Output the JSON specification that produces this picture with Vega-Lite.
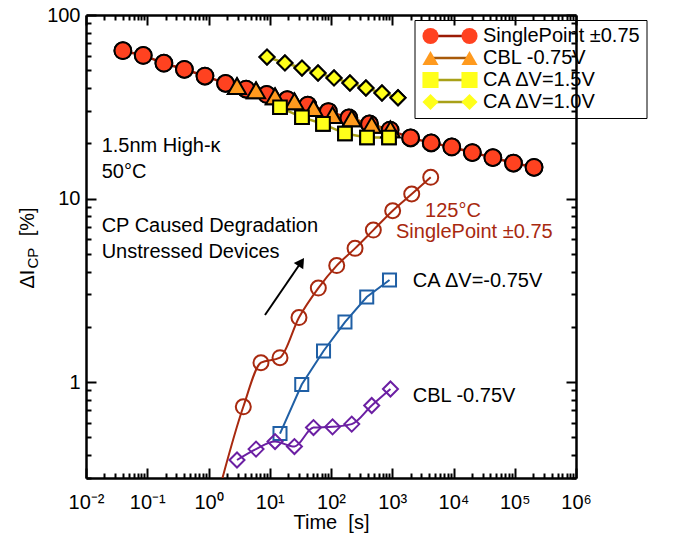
{
  "$schema": "https://vega.github.io/schema/vega-lite/v6.json",
  "width": 490,
  "height": 463,
  "autosize": {"type": "none"},
  "padding": {"left": 86, "top": 15, "right": 99, "bottom": 57},
  "background": "white",
  "config": {"font": "Liberation Sans", "view": {"stroke": null}, "axis": {"grid": false}},
  "datasets": {
    "pts": [
      {"series": "SinglePoint ±0.75", "t": 0.04, "v": 63.9},
      {"series": "SinglePoint ±0.75", "t": 0.086, "v": 60.2},
      {"series": "SinglePoint ±0.75", "t": 0.187, "v": 54.6},
      {"series": "SinglePoint ±0.75", "t": 0.404, "v": 50.6},
      {"series": "SinglePoint ±0.75", "t": 0.875, "v": 46.5},
      {"series": "SinglePoint ±0.75", "t": 1.9, "v": 42.4},
      {"series": "SinglePoint ±0.75", "t": 4.11, "v": 39.5},
      {"series": "SinglePoint ±0.75", "t": 8.91, "v": 36.9},
      {"series": "SinglePoint ±0.75", "t": 19.3, "v": 34.6},
      {"series": "SinglePoint ±0.75", "t": 41.8, "v": 32.3},
      {"series": "SinglePoint ±0.75", "t": 90.6, "v": 29.8},
      {"series": "SinglePoint ±0.75", "t": 196, "v": 27.5},
      {"series": "SinglePoint ±0.75", "t": 425, "v": 25.5},
      {"series": "SinglePoint ±0.75", "t": 921, "v": 23.6},
      {"series": "SinglePoint ±0.75", "t": 1995, "v": 21.4},
      {"series": "SinglePoint ±0.75", "t": 4325, "v": 20.1},
      {"series": "SinglePoint ±0.75", "t": 9376, "v": 19.1},
      {"series": "SinglePoint ±0.75", "t": 20300, "v": 17.8},
      {"series": "SinglePoint ±0.75", "t": 43950, "v": 16.7},
      {"series": "SinglePoint ±0.75", "t": 95300, "v": 15.6},
      {"series": "SinglePoint ±0.75", "t": 206500, "v": 14.8},
      {"series": "CBL -0.75V", "t": 2.92, "v": 41.0},
      {"series": "CBL -0.75V", "t": 5.97, "v": 38.8},
      {"series": "CBL -0.75V", "t": 12.2, "v": 36.0},
      {"series": "CBL -0.75V", "t": 25.3, "v": 33.8},
      {"series": "CBL -0.75V", "t": 51.8, "v": 31.1},
      {"series": "CBL -0.75V", "t": 106, "v": 28.5},
      {"series": "CBL -0.75V", "t": 218, "v": 27.3},
      {"series": "CBL -0.75V", "t": 462, "v": 25.2},
      {"series": "CBL -0.75V", "t": 935, "v": 23.8},
      {"series": "CA ΔV=1.5V", "t": 14.7, "v": 31.4},
      {"series": "CA ΔV=1.5V", "t": 33.6, "v": 27.7},
      {"series": "CA ΔV=1.5V", "t": 74, "v": 25.5},
      {"series": "CA ΔV=1.5V", "t": 169, "v": 22.6},
      {"series": "CA ΔV=1.5V", "t": 387, "v": 21.5},
      {"series": "CA ΔV=1.5V", "t": 885, "v": 21.5},
      {"series": "CA ΔV=1.0V", "t": 9.02, "v": 59.0},
      {"series": "CA ΔV=1.0V", "t": 17.7, "v": 54.8},
      {"series": "CA ΔV=1.0V", "t": 33.6, "v": 51.4},
      {"series": "CA ΔV=1.0V", "t": 61.4, "v": 48.3},
      {"series": "CA ΔV=1.0V", "t": 112, "v": 45.4},
      {"series": "CA ΔV=1.0V", "t": 204, "v": 42.6},
      {"series": "CA ΔV=1.0V", "t": 372, "v": 40.0},
      {"series": "CA ΔV=1.0V", "t": 680, "v": 37.6},
      {"series": "CA ΔV=1.0V", "t": 1242, "v": 35.4},
      {"series": "125°C SinglePoint ±0.75", "t": 1.46, "v": 0.25},
      {"series": "125°C SinglePoint ±0.75", "t": 3.70, "v": 0.733},
      {"series": "125°C SinglePoint ±0.75", "t": 7.19, "v": 1.274},
      {"series": "125°C SinglePoint ±0.75", "t": 14.7, "v": 1.357},
      {"series": "125°C SinglePoint ±0.75", "t": 30.0, "v": 2.246},
      {"series": "125°C SinglePoint ±0.75", "t": 62.1, "v": 3.25},
      {"series": "125°C SinglePoint ±0.75", "t": 124, "v": 4.31},
      {"series": "125°C SinglePoint ±0.75", "t": 247, "v": 5.35},
      {"series": "125°C SinglePoint ±0.75", "t": 491, "v": 6.73},
      {"series": "125°C SinglePoint ±0.75", "t": 1016, "v": 8.58},
      {"series": "125°C SinglePoint ±0.75", "t": 2080, "v": 10.58},
      {"series": "125°C SinglePoint ±0.75", "t": 4246, "v": 13.05},
      {"series": "CA ΔV=-0.75V", "t": 14.7, "v": 0.524},
      {"series": "CA ΔV=-0.75V", "t": 33.3, "v": 0.969},
      {"series": "CA ΔV=-0.75V", "t": 75.5, "v": 1.476},
      {"series": "CA ΔV=-0.75V", "t": 169, "v": 2.123},
      {"series": "CA ΔV=-0.75V", "t": 383, "v": 2.905},
      {"series": "CA ΔV=-0.75V", "t": 902, "v": 3.597},
      {"series": "CBL -0.75V unstressed", "t": 2.92, "v": 0.376},
      {"series": "CBL -0.75V unstressed", "t": 5.97, "v": 0.431},
      {"series": "CBL -0.75V unstressed", "t": 12.2, "v": 0.474},
      {"series": "CBL -0.75V unstressed", "t": 25.3, "v": 0.445},
      {"series": "CBL -0.75V unstressed", "t": 51.8, "v": 0.565},
      {"series": "CBL -0.75V unstressed", "t": 106, "v": 0.570},
      {"series": "CBL -0.75V unstressed", "t": 218, "v": 0.590},
      {"series": "CBL -0.75V unstressed", "t": 462, "v": 0.745},
      {"series": "CBL -0.75V unstressed", "t": 935, "v": 0.916}
    ],
    "notesBlack": [
      {"label": "1.5nm High-κ", "t": 0.01803, "v": 17.9},
      {"label": "50°C", "t": 0.01803, "v": 12.93},
      {"label": "CP Caused Degradation", "t": 0.01803, "v": 6.59},
      {"label": "Unstressed Devices", "t": 0.01803, "v": 4.74},
      {"label": "CA ΔV=-0.75V", "t": 2158, "v": 3.31},
      {"label": "CBL -0.75V", "t": 2158, "v": 0.781}
    ],
    "notesRed": [
      {"label": "125°C", "t": 3428, "v": 7.96},
      {"label": "SinglePoint ±0.75", "t": 1151, "v": 6.07}
    ],
    "arrow": [
      {"t": 8.36, "v": 2.32, "t2": 32.7, "v2": 4.51}
    ],
    "arrowhead": [
      {"t": 32.7, "v": 4.51}
    ]
  },
  "layer": [
    {
      "resolve": {"legend": {"stroke": "independent", "shape": "independent", "fill": "independent"}},
      "encoding": {
        "x": {
          "field": "t", "type": "quantitative",
          "scale": {"type": "log", "domain": [0.01, 1000000], "nice": false},
          "axis": {
            "orient": "bottom",
            "values": [0.01,0.02,0.03,0.04,0.05,0.06,0.07,0.08,0.09,0.1,0.2,0.3,0.4,0.5,0.6,0.7,0.8,0.9,1,2,3,4,5,6,7,8,9,10,20,30,40,50,60,70,80,90,100,200,300,400,500,600,700,800,900,1000,2000,3000,4000,5000,6000,7000,8000,9000,10000,20000,30000,40000,50000,60000,70000,80000,90000,100000,200000,300000,400000,500000,600000,700000,800000,900000,1000000],
            "labelExpr": "abs(log(datum.value)/LN10 - round(log(datum.value)/LN10)) < 0.001 ? '10' + ['⁻²','⁻¹','⁰','¹','²','³','⁴','⁵','⁶'][round(log(datum.value)/LN10) + 2] : ''",
            "labelFontSize": 20, "labelColor": "black", "labelFlush": false, "labelOverlap": false, "labelPadding": 24,
            "tickSize": {"condition": {"test": "abs(log(datum.value)/LN10 - round(log(datum.value)/LN10)) < 0.001", "value": -10}, "value": -5},
            "tickColor": "black", "tickWidth": 2,
            "domainColor": "black", "domainWidth": 2.5,
            "title": "Time\u00a0\u00a0[s]",
            "titleFontSize": 20, "titleFontWeight": "normal", "titleColor": "black",
            "titleX": 245, "titleY": 50, "titleAlign": "center", "titleBaseline": "alphabetic"
          }
        },
        "y": {
          "field": "v", "type": "quantitative",
          "scale": {"type": "log", "domain": [0.3, 100], "nice": false},
          "axis": {
            "orient": "left",
            "values": [0.3,0.4,0.5,0.6,0.7,0.8,0.9,1,2,3,4,5,6,7,8,9,10,20,30,40,50,60,70,80,90,100],
            "labelExpr": "datum.value == 1 ? '1' : datum.value == 10 ? '10' : datum.value == 100 ? '100' : ''",
            "labelFontSize": 20, "labelColor": "black", "labelOverlap": false, "labelPadding": 16,
            "tickSize": {"condition": {"test": "abs(log(datum.value)/LN10 - round(log(datum.value)/LN10)) < 0.001", "value": -10}, "value": -5},
            "tickColor": "black", "tickWidth": 2,
            "domainColor": "black", "domainWidth": 2.5,
            "title": "ΔI\u00a0\u00a0\u00a0\u00a0\u00a0\u00a0[%]",
            "titleFontSize": 20, "titleFontWeight": "normal", "titleColor": "black",
            "titleAngle": 270, "titleAlign": "left", "titleBaseline": "alphabetic",
            "titleX": -53, "titleY": 273
          }
        }
      },
      "layer": [
        {
          "data": {"name": "pts"},
          "transform": [{"filter": {"field": "series", "oneOf": ["SinglePoint ±0.75", "CBL -0.75V", "CA ΔV=1.5V", "CA ΔV=1.0V"]}}],
          "mark": {"type": "line", "strokeWidth": 2.5, "clip": true},
          "encoding": {
            "stroke": {
              "field": "series", "type": "nominal",
              "scale": {"domain": ["SinglePoint ±0.75", "CBL -0.75V", "CA ΔV=1.5V", "CA ΔV=1.0V"], "range": ["#9b1b05", "#a85a0a", "#a8a018", "#a8a018"]},
              "legend": {
                "orient": "none", "legendX": 337.5, "legendY": 5, "direction": "vertical", "title": null, "padding": 6,
                "labelFontSize": 20, "labelExpr": "''", "labelOpacity": 0, "labelOffset": 0, "rowPadding": 2, "clipHeight": 20,
                "symbolType": "stroke", "symbolSize": 1521, "symbolStrokeWidth": 2.5
              }
            }
          }
        },
        {
          "data": {"name": "pts"},
          "transform": [{"filter": {"field": "series", "oneOf": ["SinglePoint ±0.75", "CBL -0.75V", "CA ΔV=1.5V", "CA ΔV=1.0V"]}}],
          "mark": {"type": "point", "filled": true, "stroke": "black", "strokeWidth": 2, "opacity": 1, "clip": true},
          "encoding": {
            "shape": {
              "field": "series", "type": "nominal",
              "scale": {"domain": ["SinglePoint ±0.75", "CBL -0.75V", "CA ΔV=1.5V", "CA ΔV=1.0V"], "range": ["circle", "triangle-up", "square", "diamond"]},
              "legend": {
                "orient": "none", "legendX": 328.5, "legendY": 5, "direction": "vertical", "title": null, "padding": 6,
                "strokeColor": "black",
                "labelFontSize": 20, "labelColor": "black", "labelLimit": 300, "labelOffset": 42.5, "rowPadding": 2, "clipHeight": 20,
                "symbolSize": 260, "symbolStrokeColor": "black", "symbolStrokeWidth": 2,
                "encode": {"legend": {"strokeWidth": {"value": 1.5}}}
              }
            },
            "fill": {
              "field": "series", "type": "nominal",
              "scale": {"domain": ["SinglePoint ±0.75", "CBL -0.75V", "CA ΔV=1.5V", "CA ΔV=1.0V"], "range": ["#ff4220", "#ff9a1e", "#ffff1a", "#ffff1a"]},
              "legend": {
                "orient": "none", "legendX": 328.5, "legendY": 5, "direction": "vertical", "title": null, "padding": 6,
                "strokeColor": "black",
                "labelFontSize": 20, "labelColor": "black", "labelLimit": 300, "labelOffset": 42.5, "rowPadding": 2, "clipHeight": 20,
                "symbolSize": 260, "symbolStrokeColor": "black", "symbolStrokeWidth": 2,
                "encode": {"legend": {"strokeWidth": {"value": 1.5}}}
              }
            },
            "size": {
              "condition": [
                {"test": "datum.series === 'SinglePoint ±0.75'", "value": 280},
                {"test": "datum.series === 'CBL -0.75V'", "value": 330},
                {"test": "datum.series === 'CA ΔV=1.5V'", "value": 185}
              ],
              "value": 225
            }
          }
        },
        {
          "data": {"name": "pts"},
          "transform": [{"filter": {"field": "series", "oneOf": ["SinglePoint ±0.75", "CBL -0.75V", "CA ΔV=1.5V", "CA ΔV=1.0V"]}}],
          "mark": {"type": "point", "filled": true, "stroke": "black", "strokeWidth": 2, "opacity": 1, "clip": true},
          "encoding": {
            "shape": {
              "field": "series", "type": "nominal",
              "scale": {"domain": ["SinglePoint ±0.75", "CBL -0.75V", "CA ΔV=1.5V", "CA ΔV=1.0V"], "range": ["circle", "triangle-up", "square", "diamond"]},
              "legend": {
                "orient": "none", "legendX": 367.5, "legendY": 5, "direction": "vertical", "title": null, "padding": 6,
                "labelFontSize": 20, "labelExpr": "''", "labelOpacity": 0, "labelOffset": 0, "rowPadding": 2, "clipHeight": 20,
                "symbolSize": 260, "symbolStrokeColor": "black", "symbolStrokeWidth": 2
              }
            },
            "fill": {
              "field": "series", "type": "nominal",
              "scale": {"domain": ["SinglePoint ±0.75", "CBL -0.75V", "CA ΔV=1.5V", "CA ΔV=1.0V"], "range": ["#ff4220", "#ff9a1e", "#ffff1a", "#ffff1a"]},
              "legend": {
                "orient": "none", "legendX": 367.5, "legendY": 5, "direction": "vertical", "title": null, "padding": 6,
                "labelFontSize": 20, "labelExpr": "''", "labelOpacity": 0, "labelOffset": 0, "rowPadding": 2, "clipHeight": 20,
                "symbolSize": 260, "symbolStrokeColor": "black", "symbolStrokeWidth": 2
              }
            },
            "size": {
              "condition": [
                {"test": "datum.series === 'SinglePoint ±0.75'", "value": 280},
                {"test": "datum.series === 'CBL -0.75V'", "value": 330},
                {"test": "datum.series === 'CA ΔV=1.5V'", "value": 185}
              ],
              "value": 225
            }
          }
        },
        {
          "data": {"name": "pts"},
          "transform": [{"filter": {"field": "series", "equal": "125°C SinglePoint ±0.75"}}],
          "mark": {"type": "line", "color": "#a8290f", "strokeWidth": 2, "interpolate": "monotone", "clip": true}
        },
        {
          "data": {"name": "pts"},
          "transform": [{"filter": {"field": "series", "equal": "125°C SinglePoint ±0.75"}}],
          "mark": {"type": "point", "shape": "circle", "filled": false, "color": "#a8290f", "strokeWidth": 2, "size": 225, "opacity": 1, "clip": true}
        },
        {
          "data": {"name": "pts"},
          "transform": [{"filter": {"field": "series", "equal": "CA ΔV=-0.75V"}}],
          "mark": {"type": "line", "color": "#1f5fa5", "strokeWidth": 2, "clip": true}
        },
        {
          "data": {"name": "pts"},
          "transform": [{"filter": {"field": "series", "equal": "CA ΔV=-0.75V"}}],
          "mark": {"type": "point", "shape": "square", "filled": false, "color": "#1f5fa5", "strokeWidth": 2, "size": 170, "opacity": 1, "clip": true}
        },
        {
          "data": {"name": "pts"},
          "transform": [{"filter": {"field": "series", "equal": "CBL -0.75V unstressed"}}],
          "mark": {"type": "line", "color": "#6b1fa3", "strokeWidth": 2, "interpolate": "monotone", "clip": true}
        },
        {
          "data": {"name": "pts"},
          "transform": [{"filter": {"field": "series", "equal": "CBL -0.75V unstressed"}}],
          "mark": {"type": "point", "shape": "diamond", "filled": false, "color": "#6b1fa3", "strokeWidth": 2, "size": 225, "opacity": 1, "clip": true}
        },
        {
          "data": {"name": "notesBlack"},
          "mark": {"type": "text", "align": "left", "baseline": "alphabetic", "fontSize": 20, "font": "Liberation Sans", "color": "black"},
          "encoding": {"text": {"field": "label"}}
        },
        {
          "data": {"name": "notesRed"},
          "mark": {"type": "text", "align": "left", "baseline": "alphabetic", "fontSize": 20, "font": "Liberation Sans", "color": "#a8290f"},
          "encoding": {"text": {"field": "label"}}
        },
        {
          "data": {"name": "arrow"},
          "mark": {"type": "rule", "strokeWidth": 2, "color": "black"},
          "encoding": {"x2": {"field": "t2"}, "y2": {"field": "v2"}}
        },
        {
          "data": {"name": "arrowhead"},
          "mark": {"type": "point", "shape": "triangle-up", "angle": 34, "filled": true, "color": "black", "size": 130, "opacity": 1}
        }
      ]
    },
    {
      "data": {"name": "pts"},
      "mark": {"type": "point", "opacity": 0, "clip": true},
      "encoding": {
        "x": {
          "field": "t", "type": "quantitative",
          "scale": {"type": "log", "domain": [0.01, 1000000], "nice": false},
          "axis": {
            "orient": "top",
            "values": [0.01,0.02,0.03,0.04,0.05,0.06,0.07,0.08,0.09,0.1,0.2,0.3,0.4,0.5,0.6,0.7,0.8,0.9,1,2,3,4,5,6,7,8,9,10,20,30,40,50,60,70,80,90,100,200,300,400,500,600,700,800,900,1000,2000,3000,4000,5000,6000,7000,8000,9000,10000,20000,30000,40000,50000,60000,70000,80000,90000,100000,200000,300000,400000,500000,600000,700000,800000,900000,1000000],
            "labels": false, "title": null,
            "tickSize": {"condition": {"test": "abs(log(datum.value)/LN10 - round(log(datum.value)/LN10)) < 0.001", "value": -10}, "value": -5},
            "tickColor": "black", "tickWidth": 2,
            "domainColor": "black", "domainWidth": 2.5
          }
        },
        "y": {
          "field": "v", "type": "quantitative",
          "scale": {"type": "log", "domain": [0.3, 100], "nice": false},
          "axis": {
            "orient": "right",
            "values": [0.3,0.4,0.5,0.6,0.7,0.8,0.9,1,2,3,4,5,6,7,8,9,10,20,30,40,50,60,70,80,90,100],
            "labels": false,
            "tickSize": {"condition": {"test": "abs(log(datum.value)/LN10 - round(log(datum.value)/LN10)) < 0.001", "value": -10}, "value": -5},
            "tickColor": "black", "tickWidth": 2,
            "domainColor": "black", "domainWidth": 2.5,
            "title": "CP",
            "titleFontSize": 15, "titleFontWeight": "normal", "titleColor": "black",
            "titleAngle": 270, "titleAlign": "left", "titleBaseline": "alphabetic",
            "titleX": -539, "titleY": 253
          }
        }
      }
    }
  ],
  "resolve": {"axis": {"x": "independent", "y": "independent"}}
}
